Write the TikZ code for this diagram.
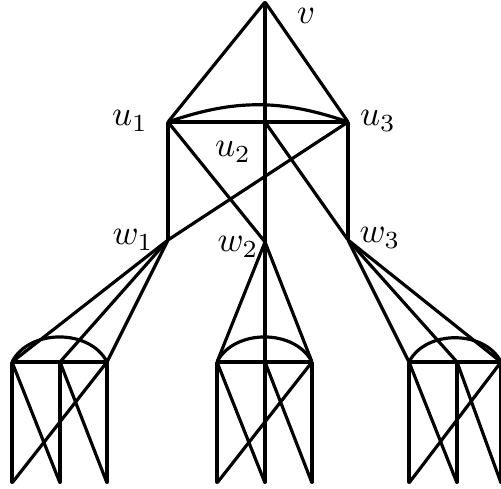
\documentclass[tikz,border=0pt]{standalone}
\usetikzlibrary{positioning}
\tikzset{
  vx/.style={inner sep=0pt, minimum size=0pt},
  edge/.style={line width=0.9pt, line cap=round}
}
\begin{document}
\begin{tikzpicture}[x={(0.01cm,0)}, y={(0,-0.01cm)}]
        \useasboundingbox (0,0) rectangle (501,489);
        % Define points
        \node[vx] (v) at (265,2) {};
        \node[vx] (u1) at (168,122) {};
        \node[vx] (u2) at (265,122) {};
        \node[vx] (u3) at (348,122) {};
        \node[vx] (w1) at (168,240) {};
        \node[vx] (w2) at (265,242) {};
        \node[vx] (w3) at (348,240) {};
        % gadget tops and bottoms
        \node[vx] (a11) at (12,362) {};
        \node[vx] (a12) at (60,362) {};
        \node[vx] (a13) at (107,362) {};
        \node[vx] (b11) at (12,483) {};
        \node[vx] (b12) at (60,483) {};
        \node[vx] (b13) at (107,483) {};
        \node[vx] (a21) at (217,362) {};
        \node[vx] (a22) at (265,362) {};
        \node[vx] (a23) at (312,362) {};
        \node[vx] (b21) at (217,483) {};
        \node[vx] (b22) at (265,483) {};
        \node[vx] (b23) at (312,483) {};
        \node[vx] (a31) at (409,362) {};
        \node[vx] (a32) at (457,362) {};
        \node[vx] (a33) at (501,362) {};
        \node[vx] (b31) at (409,483) {};
        \node[vx] (b32) at (457,483) {};
        \node[vx] (b33) at (501,483) {};
        % Labels
        \node[inner sep=1pt] (lv) at (306,16) {$v$};
        \node (lu1) at (130,121) {$u_1$};
        \node (lu2) at (233,152) {$u_2$};
        \node (lu3) at (378,121) {$u_3$};
        \node (lw1) at (133,240) {$w_1$};
        \node (lw2) at (238,247) {$w_2$};
        \node (lw3) at (380,238) {$w_3$};
        % top part
        \draw[edge] (v) -- (u1);
        \draw[edge] (v) -- (u2);
        \draw[edge] (v) -- (u3);
        \draw[edge] (u1) -- (u3);
        \draw[edge] (u1) to[bend left=19] (u3);
        \draw[edge] (u1) -- (w1);
        \draw[edge] (u1) -- (w2);
        \draw[edge] (u2) -- (w2);
        \draw[edge] (u2) -- (w3);
        \draw[edge] (u3) -- (w3);
        \draw[edge] (u3) -- (w1);
        % left gadget
        \draw[edge] (w1) -- (a11);
        \draw[edge] (w1) -- (a12);
        \draw[edge] (w1) -- (a13);
        \draw[edge] (a11) -- (a13);
        \draw[edge] (a11) to[bend left=62] (a13);
        \draw[edge] (a11) -- (b11);
        \draw[edge] (a11) -- (b12);
        \draw[edge] (a12) -- (b12);
        \draw[edge] (a12) -- (b13);
        \draw[edge] (a13) -- (b13);
        \draw[edge] (a13) -- (b11);
        % middle gadget
        \draw[edge] (w2) -- (a21);
        \draw[edge] (w2) -- (a22);
        \draw[edge] (w2) -- (a23);
        \draw[edge] (a21) -- (a23);
        \draw[edge] (a21) to[bend left=62] (a23);
        \draw[edge] (a21) -- (b21);
        \draw[edge] (a21) -- (b22);
        \draw[edge] (a22) -- (b22);
        \draw[edge] (a22) -- (b23);
        \draw[edge] (a23) -- (b23);
        \draw[edge] (a23) -- (b21);
        % right gadget
        \draw[edge] (w3) -- (a31);
        \draw[edge] (w3) -- (a32);
        \draw[edge] (w3) -- (a33);
        \draw[edge] (a31) -- (a33);
        \draw[edge] (a31) to[bend left=62] (a33);
        \draw[edge] (a31) -- (b31);
        \draw[edge] (a31) -- (b32);
        \draw[edge] (a32) -- (b32);
        \draw[edge] (a32) -- (b33);
        \draw[edge] (a33) -- (b33);
        \draw[edge] (a33) -- (b31);
\end{tikzpicture}
\end{document}
